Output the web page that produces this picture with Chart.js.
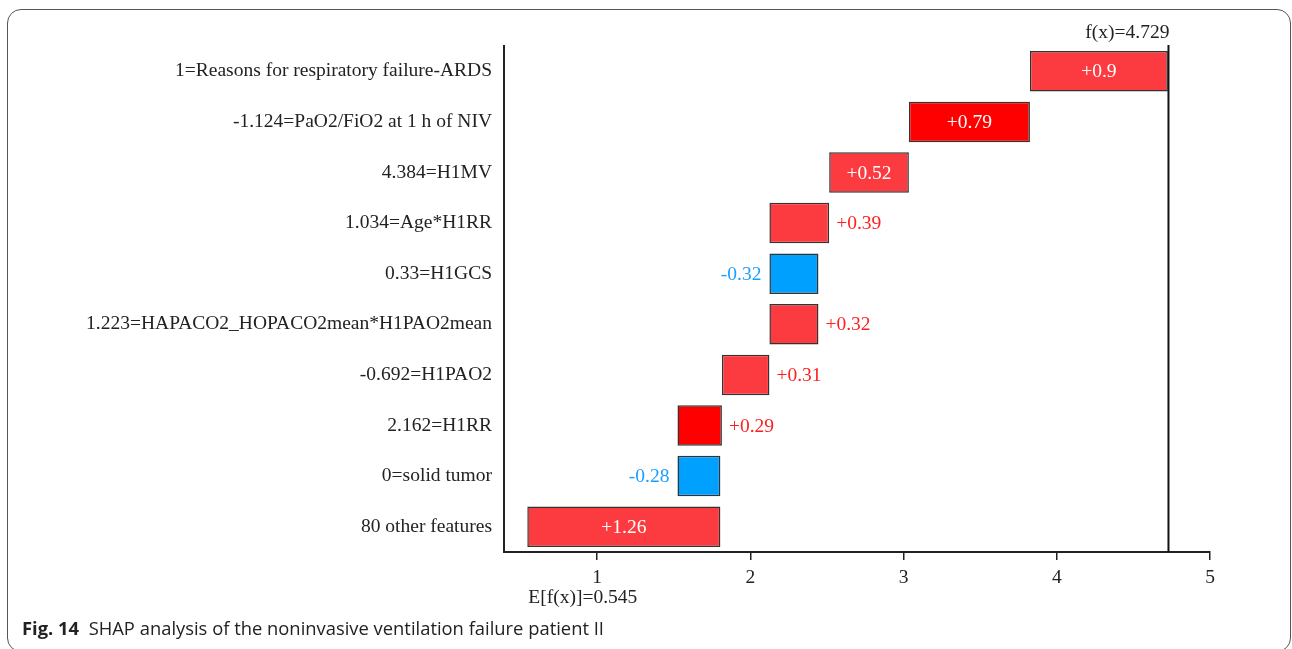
<!DOCTYPE html>
<html>
<head>
<meta charset="utf-8">
<script src="https://cdn.jsdelivr.net/npm/chart.js@4.4.1/dist/chart.umd.min.js"></script>
<style>
  html, body { margin: 0; padding: 0; background: #fff; }
  #wrap { position: relative; width: 1292px; height: 649px; overflow: hidden; }
  #frame { position: absolute; left: 7px; top: 9px; width: 1284px; height: 643px;
           border: 1.5px solid #555; border-radius: 14px; box-sizing: border-box; }
  #chart { position: absolute; left: 0; top: 0; }
  #caption { position: absolute; left: 22px; top: 616px; font-family: "Open Sans", sans-serif;
             font-size: 18px; color: #222; white-space: nowrap; transform-origin: 0 0; }
  #caption b { font-weight: 700; }
</style>
</head>
<body>
<div id="wrap">
  <div id="frame"></div>
  <canvas id="chart" width="1292" height="649"></canvas>
  <div id="caption"><b>Fig. 14</b>&nbsp; SHAP analysis of the noninvasive ventilation failure patient II</div>
</div>
<script>
// Feature labels, top to bottom
const features = [
  "1=Reasons for respiratory failure-ARDS",
  "-1.124=PaO2/FiO2 at 1 h of NIV",
  "4.384=H1MV",
  "1.034=Age*H1RR",
  "0.33=H1GCS",
  "1.223=HAPACO2_HOPACO2mean*H1PAO2mean",
  "-0.692=H1PAO2",
  "2.162=H1RR",
  "0=solid tumor",
  "80 other features"
];
// SHAP contribution of each feature (same order)
const shapValues = [0.9, 0.79, 0.52, 0.39, -0.32, 0.32, 0.31, 0.29, -0.28, 1.26];
// Fill for each bar
const barColors = ["#fc3b40", "#ff0000", "#fc3b40", "#fc3b40", "#00a0ff",
                   "#fc3b40", "#fc3b40", "#ff0000", "#00a0ff", "#fc3b40"];
const baseValue = 0.545;   // E[f(x)]
const outputValue = 4.729; // f(x)
const xTicks = [1, 2, 3, 4, 5];
const xMin = 0.393, xMax = 5;

// Waterfall: accumulate from the bottom bar (base value) upwards
const ranges = new Array(shapValues.length);
let acc = baseValue;
for (let i = shapValues.length - 1; i >= 0; i--) {
  const start = acc;
  acc = +(acc + shapValues[i]).toFixed(4);
  ranges[i] = [start, acc];
}

const SERIF = '"Liberation Serif", "Times New Roman", serif';
const FS = 19.5;
const POS_TEXT = "#ff1f1f", NEG_TEXT = "#1a9fff";

const fmt = v => (v > 0 ? "+" : "") + v;

const annotate = {
  id: "annotate",
  afterDatasetsDraw(chart) {
    const { ctx, scales: { x, y } } = chart;
    const meta = chart.getDatasetMeta(0);
    ctx.save();
    ctx.font = FS + "px " + SERIF;
    ctx.textBaseline = "middle";
    meta.data.forEach((bar, i) => {
      const v = shapValues[i];
      const label = fmt(v);
      const [a, b] = ranges[i];
      const pa = x.getPixelForValue(a), pb = x.getPixelForValue(b);
      const left = Math.min(pa, pb), right = Math.max(pa, pb);
      const w = right - left;
      const tw = ctx.measureText(label).width;
      if (v > 0 && w > tw + 24) {
        ctx.fillStyle = "#fff";
        ctx.textAlign = "center";
        ctx.fillText(label, (left + right) / 2, bar.y + 1);
      } else if (v > 0) {
        ctx.fillStyle = POS_TEXT;
        ctx.textAlign = "left";
        ctx.fillText(label, right + 7, bar.y + 1);
      } else {
        ctx.fillStyle = NEG_TEXT;
        ctx.textAlign = "right";
        ctx.fillText(label, left - 8, bar.y + 1);
      }
    });
    // f(x) line and labels
    const fxp = x.getPixelForValue(outputValue);
    ctx.strokeStyle = "#111";
    ctx.lineWidth = 2;
    ctx.beginPath();
    ctx.moveTo(fxp, chart.chartArea.top - 1);
    ctx.lineTo(fxp, chart.chartArea.bottom);
    ctx.stroke();
    ctx.fillStyle = "#222";
    ctx.textAlign = "right";
    ctx.fillText("f(x)=" + outputValue, fxp + 1, chart.chartArea.top - 13);
    ctx.textAlign = "left";
    ctx.fillText("E[f(x)]=" + baseValue, x.getPixelForValue(baseValue) + 1, chart.chartArea.bottom + 46);
    ctx.restore();
  }
};

new Chart(document.getElementById("chart"), {
  type: "bar",
  data: {
    labels: features,
    datasets: [{
      data: ranges,
      backgroundColor: barColors,
      borderColor: "#333",
      borderWidth: 1.5,
      borderSkipped: false,
      categoryPercentage: 0.8,
      barPercentage: 1.0
    }]
  },
  options: {
    indexAxis: "y",
    responsive: false,
    animation: false,
    devicePixelRatio: 1,
    layout: { padding: { left: 0, right: 82, top: 46, bottom: 0 } },
    plugins: { legend: { display: false }, tooltip: { enabled: false } },
    scales: {
      x: {
        type: "linear",
        min: xMin, max: xMax,
        afterBuildTicks: s => { s.ticks = xTicks.map(v => ({ value: v })); },
        afterFit: s => { s.height = 97; },
        grid: { drawOnChartArea: false, drawTicks: true, tickLength: 8, color: "#222", lineWidth: 1.5 },
        border: { display: true, color: "#222", width: 2 },
        ticks: { color: "#222", font: { family: SERIF, size: FS }, padding: 6, maxRotation: 0 }
      },
      y: {
        afterFit: s => { s.width = 504; },
        grid: { display: false, drawTicks: false },
        border: { display: true, color: "#222", width: 2 },
        ticks: { color: "#222", font: { family: SERIF, size: FS }, padding: 12 }
      }
    }
  },
  plugins: [annotate]
});

// Fit caption to its printed width
const cap = document.getElementById("caption");
const cw = cap.getBoundingClientRect().width;
cap.style.transform = "scaleX(" + (582 / cw) + ")";
</script>
</body>
</html>
